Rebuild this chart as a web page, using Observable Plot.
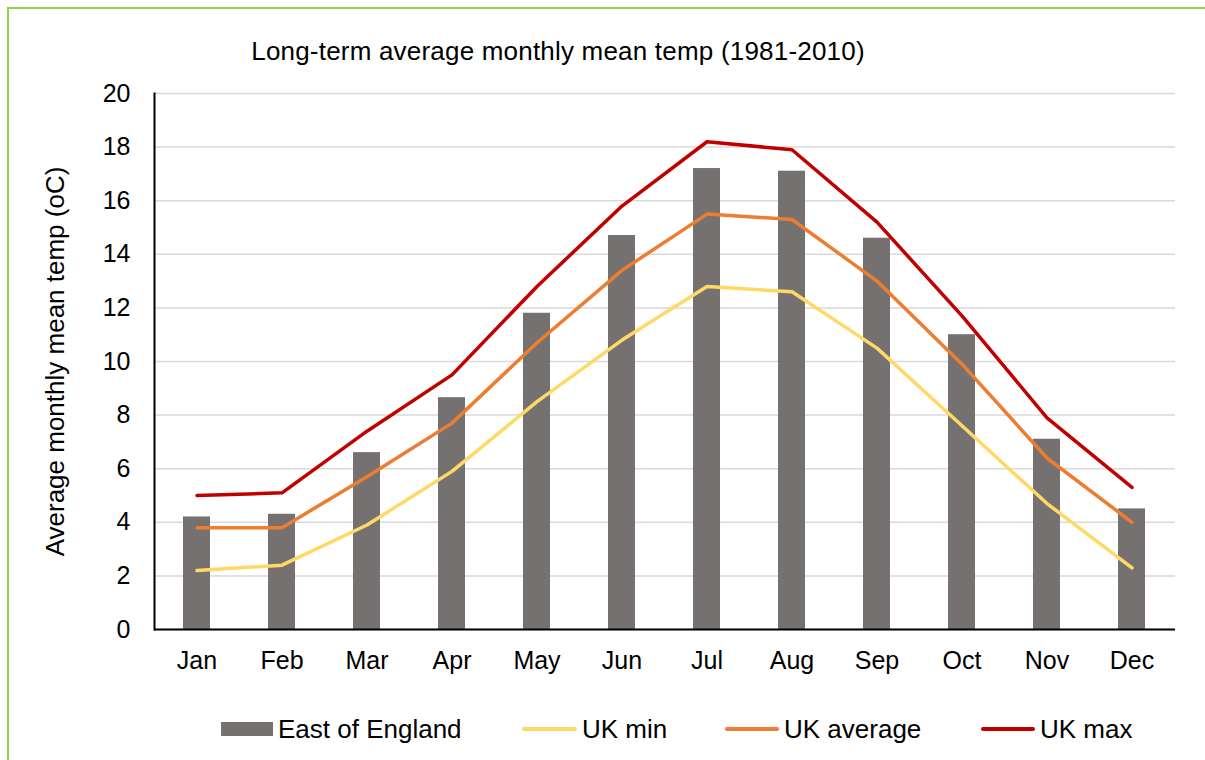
<!DOCTYPE html>
<html>
<head>
<meta charset="utf-8">
<script src="https://cdn.jsdelivr.net/npm/d3@7"></script>
<script src="https://cdn.jsdelivr.net/npm/@observablehq/plot@0.6"></script>
<style>
  html, body { margin: 0; padding: 0; background: #fff; }
  body { width: 1205px; height: 760px; overflow: hidden; font-family: "Liberation Sans", Arial, sans-serif; }
  #frame { position: absolute; left: 7px; top: 7px; width: 1210px; height: 770px; border: 2px solid #92d050; box-sizing: border-box; }
  #title { position: absolute; top: 36px; left: 0; width: 1116px; text-align: center; font-size: 26px; letter-spacing: 0.2px; color: #000; }
  #chart { position: absolute; left: 0; top: 0; }
  #legend { position: absolute; top: 714px; left: 0; height: 30px; font-size: 26px; color: #000; }
  .item { position: absolute; top: 0; display: flex; align-items: center; height: 30px; white-space: nowrap; }
  .sw { display: inline-block; margin-right: 5px; }
</style>
</head>
<body>
<div id="frame"></div>
<div id="title">Long-term average monthly mean temp (1981-2010)</div>
<div id="chart"></div>
<div id="legend"></div>
<script>
// Months and monthly mean temperatures (°C), 1981-2010
const months = ["Jan","Feb","Mar","Apr","May","Jun","Jul","Aug","Sep","Oct","Nov","Dec"];
const eastOfEngland = [4.2, 4.3, 6.6, 8.65, 11.8, 14.7, 17.2, 17.1, 14.6, 11.0, 7.1, 4.5];
const ukMin        = [2.2, 2.4, 3.9, 5.9, 8.5, 10.8, 12.8, 12.6, 10.5, 7.6, 4.7, 2.3];
const ukAverage    = [3.8, 3.8, 5.7, 7.7, 10.7, 13.4, 15.5, 15.3, 13.0, 9.9, 6.4, 4.0];
const ukMax        = [5.0, 5.1, 7.4, 9.5, 12.8, 15.8, 18.2, 17.9, 15.2, 11.7, 7.9, 5.3];
const yTicks = [0, 2, 4, 6, 8, 10, 12, 14, 16, 18, 20];

const seriesNames = ["East of England", "UK min", "UK average", "UK max"];
const seriesColors = ["#767171", "#ffd966", "#ed7d31", "#c00000"];

const bars = months.map((m, i) => ({month: m, value: eastOfEngland[i]}));
const lines = [
  {name: "UK min", values: ukMin},
  {name: "UK average", values: ukAverage},
  {name: "UK max", values: ukMax}
].flatMap(s => s.values.map((v, i) => ({series: s.name, month: months[i], value: v})));

const chart = Plot.plot({
  width: 1205,
  height: 700,
  marginLeft: 154,
  marginRight: 30,
  marginTop: 93,
  marginBottom: 71,
  style: {fontFamily: "'Liberation Sans', Arial, sans-serif", fontSize: "25px", color: "#000", background: "transparent", overflow: "visible"},
  x: {domain: months, paddingInner: 0.68, paddingOuter: 0.34, label: null},
  y: {domain: [0, 20], ticks: yTicks, label: null},
  color: {domain: seriesNames, range: seriesColors},
  marks: [
    Plot.gridY(yTicks, {stroke: "#d9d9d9", strokeOpacity: 1, strokeWidth: 1.5}),
    Plot.barY(bars, {x: "month", y: "value", fill: "#767171"}),
    Plot.line(lines, {
      x: "month", y: "value", z: "series", stroke: d => d.series,
      strokeWidth: 3.5, strokeLinejoin: "round", strokeLinecap: "round"
    }),
    Plot.ruleY([0], {stroke: "#000", strokeWidth: 2}),
    Plot.frame({anchor: "left", stroke: "#000", strokeWidth: 2}),
    Plot.axisY(yTicks, {tickSize: 0, tickPadding: 24, fontSize: 25, label: null}),
    Plot.axisX({tickSize: 0, tickPadding: 22, fontSize: 25, label: null}),
    Plot.text(["Average monthly mean temp (oC)"], {
      frameAnchor: "left", dx: -99, rotate: -90, fontSize: 26, textAnchor: "middle"
    })
  ]
});
document.getElementById("chart").appendChild(chart);

// Legend below the plot
const legendItems = [
  {name: seriesNames[0], color: seriesColors[0], kind: "box", left: 221, w: 52},
  {name: seriesNames[1], color: seriesColors[1], kind: "line", left: 522, w: 55},
  {name: seriesNames[2], color: seriesColors[2], kind: "line", left: 725, w: 54},
  {name: seriesNames[3], color: seriesColors[3], kind: "line", left: 981, w: 54}
];
const legend = document.getElementById("legend");
for (const it of legendItems) {
  const item = document.createElement("div");
  item.className = "item";
  item.style.left = it.left + "px";
  const sw = document.createElement("span");
  sw.className = "sw";
  sw.style.width = it.w + "px";
  sw.style.background = it.color;
  sw.style.height = it.kind === "box" ? "14px" : "4px";
  sw.style.borderRadius = it.kind === "box" ? "0" : "2px";
  item.appendChild(sw);
  const label = document.createElement("span");
  label.textContent = it.name;
  item.appendChild(label);
  legend.appendChild(item);
}
</script>
</body>
</html>
